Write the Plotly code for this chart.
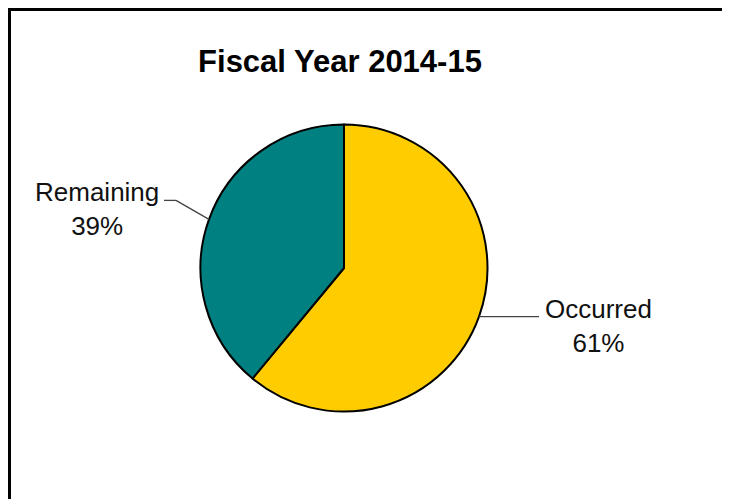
import math
import plotly.graph_objects as go

# ---- data ----
labels = ["Occurred", "Remaining"]
values = [61, 39]
colors = ["#FFCC00", "#008080"]
title_text = "Fiscal Year 2014-15"

# ---- geometry (pixels in the screenshot; page has an 8px body margin) ----
OFF = 8
W, H = 730 - OFF, 499 - OFF
CX, CY, R = 344, 268, 143.5


def px(x):
    return (x - OFF) / W


def py(y):
    return 1 - (y - OFF) / H


fig = go.Figure()
fig.add_trace(go.Pie(
    labels=labels, values=values, sort=False, direction="clockwise", rotation=0,
    marker=dict(colors=colors, line=dict(color="black", width=2)),
    textinfo="none", hoverinfo="label+percent", showlegend=False,
    domain=dict(x=[px(CX - R), px(CX + R)], y=[py(CY + R), py(CY - R)]),
))

total = sum(values)
shapes = []
annotations = []
cum = 0
for lab, v in zip(labels, values):
    theta = 2 * math.pi * (cum + v / 2) / total
    cum += v
    ex = CX + R * math.sin(theta)
    ey = CY - R * math.cos(theta)
    pct = f"{round(100 * v / total)}%"
    txt = f"{lab}<br>{pct}"
    if math.sin(theta) > 0:
        pts = [(ex, ey), (ex + 60, ey)]
        annotations.append(dict(x=px(ex + 64), y=py(ey + 9), xref="paper", yref="paper",
                                text=txt, showarrow=False, xanchor="left", yanchor="middle",
                                align="center", font=dict(size=26, color="#111")))
    else:
        pts = [(ex, ey), (ex - 33, ey - 19), (ex - 45, ey - 19)]
        annotations.append(dict(x=px(ex - 48), y=py(ey - 10), xref="paper", yref="paper",
                                text=txt, showarrow=False, xanchor="right", yanchor="middle",
                                align="center", font=dict(size=26, color="#111")))
    for (x0, y0), (x1, y1) in zip(pts[:-1], pts[1:]):
        shapes.append(dict(type="line", xref="paper", yref="paper",
                           x0=px(x0), y0=py(y0), x1=px(x1), y1=py(y1),
                           line=dict(color="#444", width=1.3)))

# border (left and top) — as close to the page edge as the figure allows
BX, BY = 9.5, 9.5
shapes.append(dict(type="line", xref="paper", yref="paper", x0=px(BX), y0=py(BY), x1=px(BX), y1=0,
                   line=dict(color="black", width=3)))
shapes.append(dict(type="line", xref="paper", yref="paper", x0=px(BX - 1.5), y0=py(BY), x1=1, y1=py(BY),
                   line=dict(color="black", width=3)))

fig.update_layout(
    width=W, height=H,
    margin=dict(l=0, r=0, t=0, b=0),
    paper_bgcolor="white", plot_bgcolor="white",
    font=dict(family="Liberation Sans, Arial, sans-serif", color="black"),
    title=dict(text="<b>" + title_text + "</b>", x=px(340), y=py(61), xanchor="center",
               yanchor="middle", font=dict(size=31, color="black")),
    shapes=shapes, annotations=annotations,
)

fig.write_html("out.html")
